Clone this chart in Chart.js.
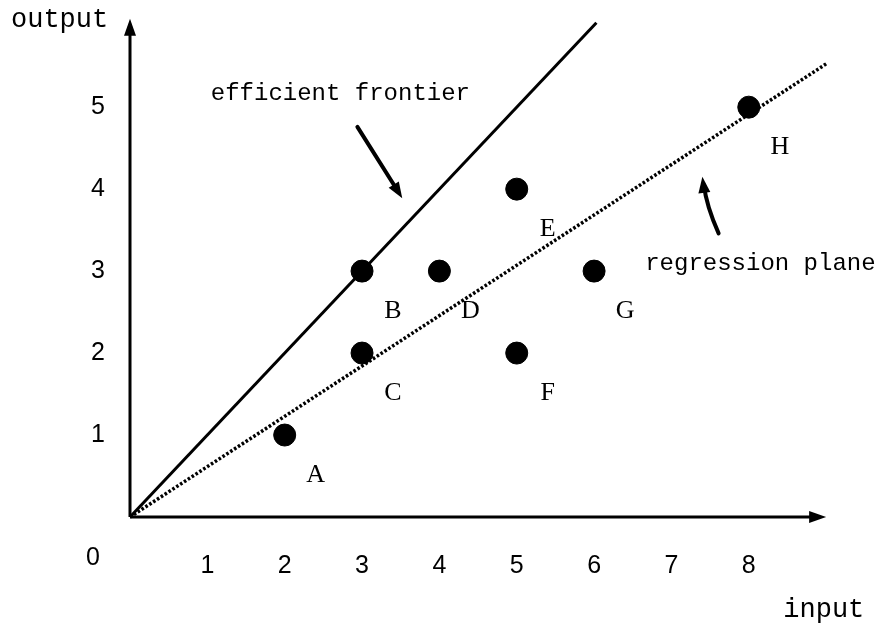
<!DOCTYPE html>
<html>
<head>
<meta charset="utf-8">
<title>efficient frontier vs regression plane</title>
<script src="https://cdn.jsdelivr.net/npm/chart.js@4/dist/chart.umd.min.js"></script>
<style>
  body { margin: 0; background: #fff; }
  #wrap { width: 877px; height: 623px; position: relative; }
</style>
</head>
<body>
<div id="wrap"><canvas id="deaChart"></canvas></div>
<script>
// units: one input, one output
const unitNames = ['A', 'B', 'C', 'D', 'E', 'F', 'G', 'H'];
const inputValues = [2, 3, 3, 4, 5, 5, 6, 8];
const outputValues = [1, 3, 2, 3, 4, 2, 3, 5];

// end points of the two reference lines
const frontierX = [0, 6.03];
const frontierY = [0, 6.03];
const regressionX = [0, 9.02];
const regressionY = [0, 5.54];

const xTickLabels = [1, 2, 3, 4, 5, 6, 7, 8];
const yTickLabels = [1, 2, 3, 4, 5];

const INK = '#000';
const MONO = '"Liberation Mono", monospace';

function arrowHead(ctx, fromX, fromY, toX, toY, len, half) {
  const a = Math.atan2(toY - fromY, toX - fromX);
  ctx.beginPath();
  ctx.moveTo(toX, toY);
  ctx.lineTo(toX - len * Math.cos(a) + half * Math.sin(a), toY - len * Math.sin(a) - half * Math.cos(a));
  ctx.lineTo(toX - len * Math.cos(a) - half * Math.sin(a), toY - len * Math.sin(a) + half * Math.cos(a));
  ctx.closePath();
  ctx.fill();
}

const sketchPlugin = {
  id: 'sketch',
  beforeDatasetsDraw(chart) {
    const { ctx, scales: { x, y } } = chart;
    const ox = x.getPixelForValue(0), oy = y.getPixelForValue(0);
    const xEnd = x.getPixelForValue(9.0), yEnd = y.getPixelForValue(6.08);
    ctx.save();
    ctx.strokeStyle = INK;
    ctx.fillStyle = INK;
    ctx.lineWidth = 3;
    ctx.beginPath();
    ctx.moveTo(ox, oy);
    ctx.lineTo(xEnd - 12, oy);
    ctx.moveTo(ox, oy);
    ctx.lineTo(ox, yEnd + 12);
    ctx.stroke();
    arrowHead(ctx, ox, oy, xEnd, oy, 17, 6);
    arrowHead(ctx, ox, oy, ox, yEnd, 17, 6);
    ctx.restore();
  },
  afterDatasetsDraw(chart) {
    const { ctx, scales: { x, y } } = chart;
    const px = v => x.getPixelForValue(v);
    const py = v => y.getPixelForValue(v);
    ctx.save();
    ctx.fillStyle = INK;
    ctx.strokeStyle = INK;
    ctx.textAlign = 'center';
    ctx.textBaseline = 'middle';

    // unit letters, below and right of each dot
    ctx.font = '26px "Liberation Serif", serif';
    chart.getDatasetMeta(0).data.forEach((pt, i) => {
      ctx.fillText(unitNames[i], pt.x + 31, pt.y + 40);
    });

    // axis names and origin
    ctx.font = '27px ' + MONO;
    ctx.fillText('output', px(-0.91), py(6.06));
    ctx.fillText('input', px(8.97), py(-1.13));
    ctx.font = '25px "Liberation Sans", sans-serif';
    ctx.fillText('0', px(-0.48), py(-0.5));

    // callouts
    ctx.font = '24px ' + MONO;
    ctx.fillText('efficient frontier', px(2.72), py(5.17));
    ctx.fillText('regression plane', px(8.15), py(3.09));

    ctx.lineWidth = 4;
    ctx.lineCap = 'round';
    ctx.beginPath();
    ctx.moveTo(px(2.94), py(4.76));
    ctx.lineTo(px(3.46), py(3.98));
    ctx.stroke();
    arrowHead(ctx, px(2.94), py(4.76), px(3.52), py(3.89), 16, 6);

    ctx.beginPath();
    ctx.moveTo(px(7.61), py(3.46));
    ctx.quadraticCurveTo(px(7.45), py(3.80), px(7.42), py(4.05));
    ctx.stroke();
    arrowHead(ctx, px(7.44), py(3.85), px(7.40), py(4.15), 16, 6);
    ctx.restore();
  }
};

// fixed axis boxes so the plot area starts at the same spot every time
function fixBox(size, prop) {
  return s => {
    s[prop] = size;
    s.paddingTop = 0;
    s.paddingBottom = 0;
    s.paddingLeft = 0;
    s.paddingRight = 0;
  };
}

const ctx = document.getElementById('deaChart').getContext('2d');
new Chart(ctx, {
  type: 'scatter',
  data: {
    datasets: [
      {
        label: 'units',
        data: inputValues.map((v, i) => ({ x: v, y: outputValues[i] })),
        backgroundColor: INK,
        borderColor: INK,
        pointRadius: 11,
        pointHoverRadius: 11,
        showLine: false
      },
      {
        label: 'efficient frontier',
        data: frontierX.map((v, i) => ({ x: v, y: frontierY[i] })),
        showLine: true,
        borderColor: INK,
        borderWidth: 3,
        pointRadius: 0,
        clip: false
      },
      {
        label: 'regression plane',
        data: regressionX.map((v, i) => ({ x: v, y: regressionY[i] })),
        showLine: true,
        borderColor: INK,
        borderWidth: 3.5,
        borderDash: [2.6, 2.0],
        borderCapStyle: 'butt',
        pointRadius: 0,
        clip: false
      }
    ]
  },
  options: {
    animation: false,
    responsive: true,
    maintainAspectRatio: false,
    layout: { padding: { top: 17, right: 47, left: 0, bottom: 0 } },
    plugins: { legend: { display: false }, tooltip: { enabled: false } },
    scales: {
      x: {
        type: 'linear',
        min: 0,
        max: 9.05,
        grid: { display: false, drawTicks: false },
        border: { display: false },
        ticks: {
          stepSize: 1,
          autoSkip: false,
          maxRotation: 0,
          padding: 34,
          color: INK,
          font: { family: '"Liberation Sans", sans-serif', size: 25 },
          callback: v => (xTickLabels.includes(v) ? String(v) : '')
        },
        afterFit: fixBox(106, 'height')
      },
      y: {
        type: 'linear',
        min: 0,
        max: 6.1,
        grid: { display: false, drawTicks: false },
        border: { display: false },
        ticks: {
          stepSize: 1,
          autoSkip: false,
          padding: 25,
          color: INK,
          font: { family: '"Liberation Sans", sans-serif', size: 25 },
          callback: v => (yTickLabels.includes(v) ? String(v) : '')
        },
        afterFit: fixBox(130, 'width')
      }
    }
  },
  plugins: [sketchPlugin]
});
</script>
</body>
</html>
